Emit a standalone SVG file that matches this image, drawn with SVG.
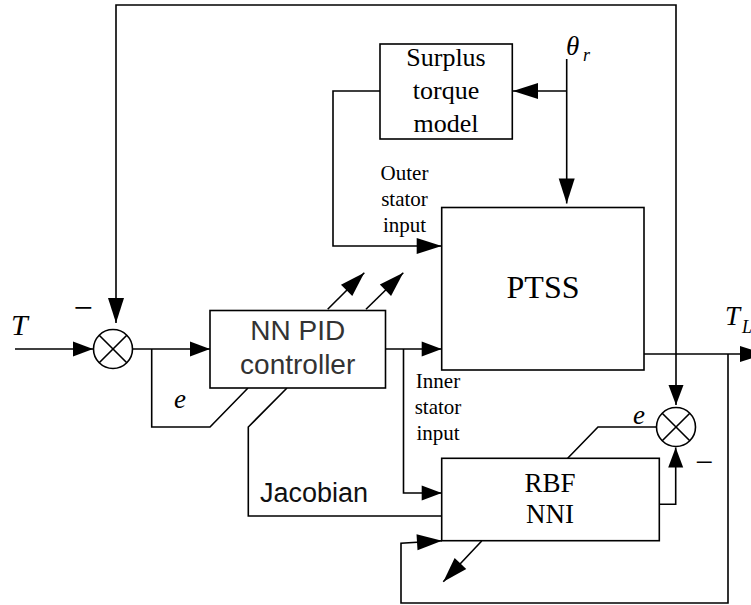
<svg xmlns="http://www.w3.org/2000/svg" width="751" height="605" viewBox="0 0 751 605">
<style>
.ln{fill:none;stroke:#000;stroke-width:1.6}
.bx{fill:#fff;stroke:#000;stroke-width:1.6}
.sr{font-family:"Liberation Serif","Times New Roman",serif;fill:#000}
.it{font-family:"Liberation Serif","Times New Roman",serif;font-style:italic;fill:#000}
.ss{font-family:"Liberation Sans",Arial,sans-serif}
</style>
<defs>
<marker id="aL" markerUnits="userSpaceOnUse" markerWidth="26" markerHeight="17" refX="25" refY="8" orient="auto-start-reverse" overflow="visible">
<path d="M0,0 L25,8 L0,16 z" fill="#000"/>
</marker>
<marker id="aS" markerUnits="userSpaceOnUse" markerWidth="21" markerHeight="16" refX="20" refY="7.5" orient="auto-start-reverse" overflow="visible">
<path d="M0,0 L20,7.5 L0,15 z" fill="#000"/>
</marker>
</defs>
<rect width="751" height="605" fill="#fff"/>
<g id="connectors">
<path class="ln" d="M116,323 V5 H676 V405" marker-start="url(#aL)" marker-end="url(#aS)"/>
<path class="ln" d="M380,91 H333 V246 H441.7" marker-end="url(#aL)"/>
<path class="ln" d="M566.7,59 V203.5" marker-end="url(#aL)"/>
<path class="ln" d="M566.7,91 H513" marker-end="url(#aL)"/>
<path class="ln" d="M15,349 H93" marker-end="url(#aS)"/>
<path class="ln" d="M132.5,349 H210" marker-end="url(#aS)"/>
<path class="ln" d="M151.7,349 V427 H210 L248,388"/>
<path class="ln" d="M287,388 L248.3,427 V516 H442"/>
<path class="ln" d="M327.7,309.3 L364.3,272.7" marker-end="url(#aL)"/>
<path class="ln" d="M366,309.3 L403.3,272.7" marker-end="url(#aL)"/>
<path class="ln" d="M385.5,349 H441.7" marker-end="url(#aS)"/>
<path class="ln" d="M403.5,349 V493 H441.7" marker-end="url(#aS)"/>
<path class="ln" d="M644,354 H765" marker-end="url(#aL)"/>
<path class="ln" d="M728,354 V603 H401 V543.3 L442,540.7" marker-end="url(#aL)"/>
<path class="ln" d="M659.3,504.3 H675.7 V447.5" marker-end="url(#aS)"/>
<path class="ln" d="M656,427 H598 L567.7,458.3"/>
<path class="ln" d="M481.7,541 L443.3,581.7" marker-end="url(#aL)"/>
</g>
<g id="sum1">
<circle class="bx" cx="113" cy="349" r="19.5"/>
<path class="ln" d="M99.2,335.2 L126.8,362.8 M126.8,335.2 L99.2,362.8"/>
</g>
<g id="sum2">
<circle class="bx" cx="676" cy="427" r="19.5"/>
<path class="ln" d="M662.2,413.2 L689.8,440.8 M689.8,413.2 L662.2,440.8"/>
</g>
<g id="surplus">
<rect class="bx" x="380" y="44" width="132.3" height="95"/>
<text class="sr" font-size="26" text-anchor="middle" x="446" y="66">Surplus</text>
<text class="sr" font-size="26" text-anchor="middle" x="446" y="99">torque</text>
<text class="sr" font-size="26" text-anchor="middle" x="446" y="132">model</text>
</g>
<g id="ptss">
<rect class="bx" x="441.7" y="207.5" width="202.3" height="162.5"/>
<text class="sr" font-size="32" text-anchor="middle" x="543" y="298">PTSS</text>
</g>
<g id="nnpid">
<rect class="bx" x="210" y="310.5" width="175.5" height="77.5" stroke-width="2"/>
<text class="ss" font-size="28" fill="#333" text-anchor="middle" x="297.7" y="340">NN PID</text>
<text class="ss" font-size="28" fill="#333" text-anchor="middle" x="297.7" y="374">controller</text>
</g>
<g id="rbf">
<rect class="bx" x="441.7" y="458.3" width="217.6" height="82.4"/>
<text class="sr" font-size="27" text-anchor="middle" x="550" y="491.5">RBF</text>
<text class="sr" font-size="27" text-anchor="middle" x="550" y="523">NNI</text>
</g>
<g id="labels">
<text class="sr" font-size="21" text-anchor="middle" x="404.5" y="180">Outer</text>
<text class="sr" font-size="21" text-anchor="middle" x="404.5" y="206">stator</text>
<text class="sr" font-size="21" text-anchor="middle" x="404.5" y="232">input</text>
<text class="sr" font-size="21" text-anchor="middle" x="438" y="388">Inner</text>
<text class="sr" font-size="21" text-anchor="middle" x="438" y="414">stator</text>
<text class="sr" font-size="21" text-anchor="middle" x="438" y="439.5">input</text>
<text class="ss" font-size="27" fill="#111" x="260" y="501.5">Jacobian</text>
<text class="it" font-size="30" x="11" y="335">T</text>
<text class="it" font-size="27" x="174" y="408">e</text>
<text class="it" font-size="27" x="633" y="424">e</text>
<text class="it" font-size="27" x="566" y="55">θ</text>
<text class="it" font-size="18" x="583" y="61">r</text>
<text class="it" font-size="27" x="725" y="325">T</text>
<text class="it" font-size="18" x="742" y="333">L</text>
<text class="sr" font-size="34" text-anchor="middle" x="83" y="318.5">−</text>
<text class="sr" font-size="32" text-anchor="middle" x="704" y="473">−</text>
</g>
</svg>
